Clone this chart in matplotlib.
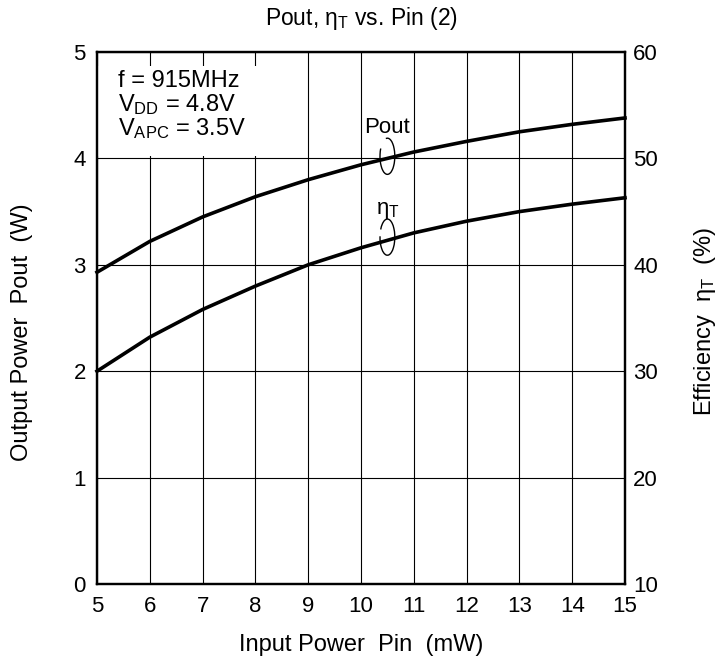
import matplotlib.pyplot as plt
import numpy as np
from matplotlib.patches import Arc, Rectangle

plt.rcParams['font.family'] = ['Liberation Sans', 'DejaVu Sans']
plt.rcParams['mathtext.fontset'] = 'custom'
plt.rcParams['mathtext.rm'] = 'Liberation Sans'
plt.rcParams['mathtext.it'] = 'Liberation Sans:italic'

# Data
pin = [5, 6, 7, 8, 9, 10, 11, 12, 13, 14, 15]
pout = [2.93, 3.22, 3.45, 3.64, 3.80, 3.94, 4.06, 4.16, 4.25, 4.32, 4.38]
eff = [30.0, 33.2, 35.8, 38.0, 40.0, 41.6, 43.0, 44.1, 45.0, 45.7, 46.3]

x_ticks = list(range(5, 16))
left_ticks = [0, 1, 2, 3, 4, 5]
right_ticks = [10, 20, 30, 40, 50, 60]

fig = plt.figure(figsize=(7.17, 6.63), dpi=100)
ax = fig.add_axes([97 / 717, 1 - 584 / 663, 528 / 717, 532 / 663])
ax2 = ax.twinx()

ax.set_xlim(5, 15)
ax.set_ylim(0, 5)
ax2.set_ylim(10, 60)
ax.set_xticks(x_ticks)
ax.set_yticks(left_ticks)
ax2.set_yticks(right_ticks)
ax.tick_params(axis='x', length=0, labelsize=16, pad=9)
ax.tick_params(axis='y', length=0, labelsize=16, pad=8)
ax2.tick_params(length=0, labelsize=16, pad=6)
ax.set_axisbelow(True)
ax.grid(True, color='black', linewidth=0.8)
for a in (ax, ax2):
    for s in a.spines.values():
        s.set_linewidth(1.6)

# white area behind the conditions text
ax.add_patch(Rectangle((5, 4.02), 3.06, 0.85, facecolor='white',
                       edgecolor='none', zorder=1))

# Curves
ax.plot(pin, pout, color='black', linewidth=2.6, clip_on=False, zorder=3)
ax2.plot(pin, eff, color='black', linewidth=2.6, clip_on=False, zorder=3)

# curve markers (loops)
ax.add_patch(Arc((10.5, 4.02), 0.28, 0.34, theta1=150, theta2=460,
                 color='black', linewidth=1.0, zorder=3))
ax2.add_patch(Arc((10.5, 42.6), 0.28, 3.4, theta1=150, theta2=460,
                  color='black', linewidth=1.0, zorder=3))
ax.text(10.5, 4.29, 'Pout', ha='center', va='center', fontsize=16)
ax.text(10.5, 3.51, 'η$_{\\mathrm{T}}$', ha='center', va='center', fontsize=16)

# conditions
ax.text(5.4, 4.83, 'f = 915MHz\nV$_{\\mathrm{DD}}$ = 4.8V\nV$_{\\mathrm{APC}}$ = 3.5V',
        ha='left', va='top', fontsize=17, linespacing=0.98, zorder=4)

ax.set_xlabel('Input Power  Pin  (mW)', fontsize=17, va='center')
ax.xaxis.set_label_coords(0.5, (584 - 645) / 532)
ax.set_ylabel('Output Power  Pout  (W)', fontsize=17, va='center')
ax.yaxis.set_label_coords((22 - 97) / 528, (584 - 332) / 532)
ax2.set_ylabel('Efficiency  η$_{\\mathrm{T}}$  (%)', fontsize=17, va='center',
               rotation=90)
ax2.yaxis.set_label_coords((705 - 97) / 528, (584 - 322) / 532)
ax.set_title('Pout, η$_{\\mathrm{T}}$ vs. Pin (2)', fontsize=16.5,
             y=(584 - 25) / 532, pad=0)

fig.savefig('out.png', dpi=100)
